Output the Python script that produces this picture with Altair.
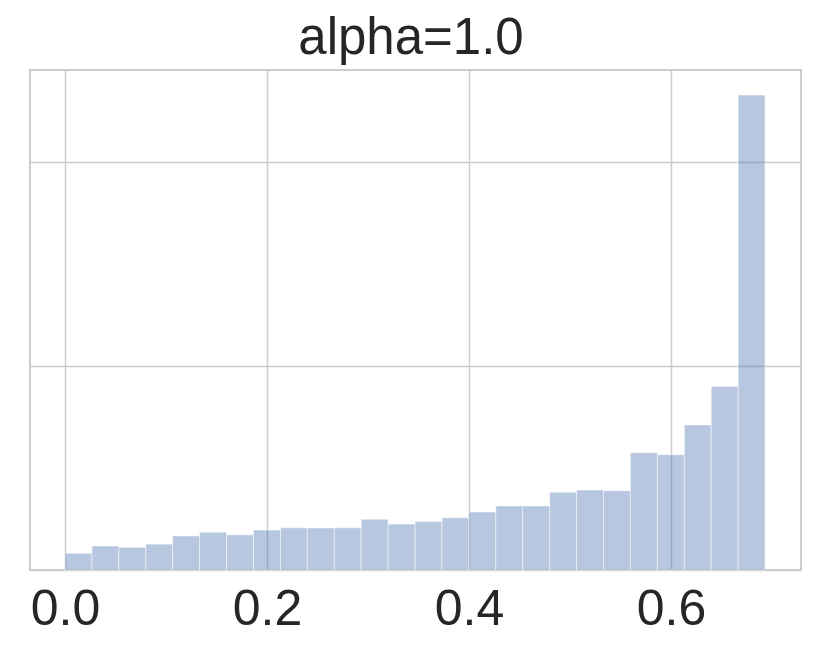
import altair as alt
import pandas as pd

# Histogram bin edges (27 edges -> 26 bins) and bar heights (counts)
bin_edges = [0.0000, 0.0267, 0.0533, 0.0800, 0.1066, 0.1333, 0.1600, 0.1866,
             0.2133, 0.2399, 0.2666, 0.2932, 0.3199, 0.3466, 0.3732, 0.3999,
             0.4265, 0.4532, 0.4799, 0.5065, 0.5332, 0.5598, 0.5865, 0.6132,
             0.6398, 0.6665, 0.6931]
counts = [82, 118, 111, 127, 167, 185, 172, 196, 207, 206, 207, 249, 225,
          238, 256, 284, 314, 314, 381, 392, 389, 575, 565, 711, 899, 2328]

x_ticks = [0.0, 0.2, 0.4, 0.6]
y_grid = [0, 1000, 2000]
title_text = "alpha=1.0"

df = pd.DataFrame({
    "start": bin_edges[:-1],
    "end": bin_edges[1:],
    "count": counts,
})
title_df = pd.DataFrame({"label": [title_text]})

bars = alt.Chart(df).mark_rect(
    fill="#4c72b0", fillOpacity=0.4, stroke="white", strokeWidth=1, strokeOpacity=0.5
).encode(
    x=alt.X("start:Q", scale=alt.Scale(domain=[-0.03465, 0.7287], nice=False, zero=False),
            axis=alt.Axis(values=x_ticks, format=".1f", title=None, ticks=False, domain=False,
                          labelFontSize=50, labelPadding=14, labelColor="#262626",
                          labelFont="Liberation Sans", grid=True, gridColor="#cccccc",
                          gridWidth=1.5, labelFlush=False)),
    x2="end:Q",
    y=alt.Y("count:Q", scale=alt.Scale(domain=[0, 2451], nice=False),
            axis=alt.Axis(values=y_grid, labels=False, ticks=False, domain=False, title=None,
                          grid=True, gridColor="#cccccc", gridWidth=1.5)),
    y2=alt.datum(0),
)

title = alt.Chart(title_df).mark_text(
    fontSize=51, font="Liberation Sans", color="#262626", align="center",
    baseline="alphabetic"
).encode(
    text="label:N",
    x=alt.value(381),
    y=alt.value(-16),
)

chart = alt.layer(bars, title).properties(
    width=771, height=500,
    autosize=alt.AutoSizeParams(type="none"),
    padding={"left": 22, "top": 62, "right": 22, "bottom": 77},
).configure_view(
    stroke="#cccccc", strokeWidth=2
)

chart.save("out.html", embed_options={"renderer": "svg", "actions": False})
